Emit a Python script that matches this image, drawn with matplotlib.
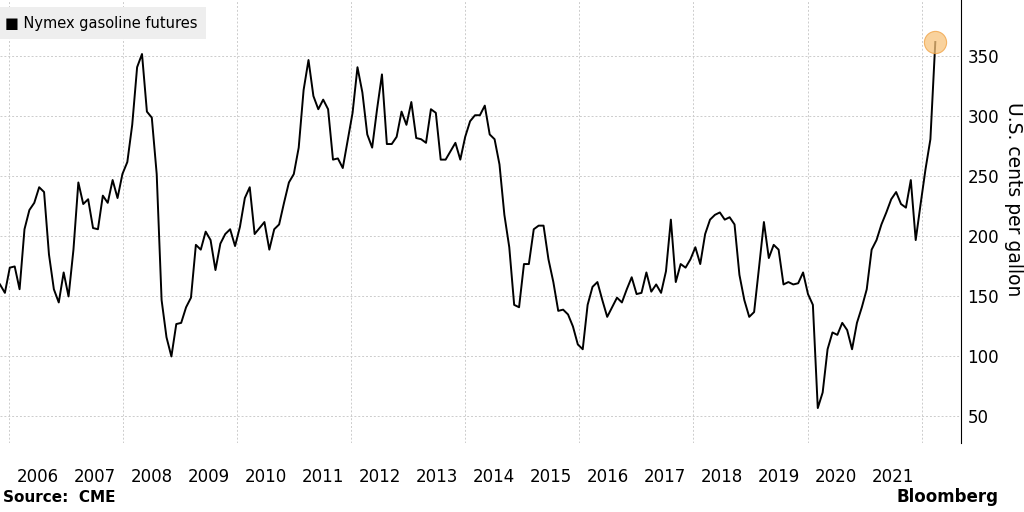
import numpy as np
import matplotlib.pyplot as plt

# monthly Nymex gasoline futures, U.S. cents per gallon
values = [160, 153, 174, 175, 156, 206, 222, 228, 241, 237, 185, 156, 145, 170, 150, 189, 245, 227,
          231, 207, 206, 234, 228, 247, 232, 252, 262, 293, 341, 352, 304, 299, 252, 147, 116, 100,
          127, 128, 141, 149, 193, 189, 204, 197, 172, 194, 202, 206, 192, 208, 232, 241, 202, 207,
          212, 189, 206, 210, 228, 245, 252, 274, 322, 347, 317, 306, 314, 306, 264, 265, 257, 280,
          303, 341, 320, 285, 274, 306, 335, 277, 277, 283, 304, 293, 312, 282, 281, 278, 306, 303,
          264, 264, 271, 278, 264, 283, 296, 301, 301, 309, 285, 281, 260, 218, 191, 143, 141, 177,
          177, 206, 209, 209, 181, 162, 138, 139, 135, 125, 110, 106, 143, 158, 162, 147, 133, 141,
          149, 145, 156, 166, 152, 153, 170, 154, 160, 153, 171, 214, 162, 177, 174, 181, 191, 177,
          202, 214, 218, 220, 214, 216, 210, 168, 147, 133, 137, 174, 212, 182, 193, 189, 160, 162,
          160, 161, 170, 152, 143, 57, 70, 106, 120, 118, 128, 122, 106, 128, 141, 156, 189, 197,
          210, 220, 231, 237, 227, 224, 247, 197, 227, 256, 281, 362]
start_year = 2005.84
end_year = 2022.24
years = np.linspace(start_year, end_year, len(values))

year_labels = list(range(2006, 2022))
y_ticks = [50, 100, 150, 200, 250, 300, 350]

fig = plt.figure(figsize=(10.24, 5.12), dpi=100)
ax = fig.add_axes([0, 0.135, 0.938, 0.865])

ax.plot(years, values, color='black', lw=1.4)
ax.plot(years[-1], values[-1], 'o', ms=16, color='#f8c47c', alpha=0.75,
        markeredgecolor='#f0a040', markeredgewidth=0.8, zorder=3)

ax.set_xlim(start_year, start_year + 960 / 57)
ax.set_ylim(28, 397)

ax.yaxis.tick_right()
ax.set_yticks(y_ticks)
ax.tick_params(axis='y', labelsize=12, length=0, pad=5)
ax.yaxis.set_label_position('right')
ax.set_ylabel('U.S. cents per gallon', fontsize=13.5, rotation=270, va='center')
ax.yaxis.set_label_coords(1.055, 0.55)

ax.set_xticks([y + 0.5 for y in year_labels])
ax.set_xticklabels([str(y) for y in year_labels])
ax.tick_params(axis='x', labelsize=12, length=0, pad=18)

for s in ['top', 'left', 'bottom']:
    ax.spines[s].set_visible(False)
ax.spines['right'].set_color('black')
ax.spines['right'].set_linewidth(0.8)

for v in y_ticks:
    ax.axhline(v, color='#cccccc', ls=(0, (2, 2)), lw=0.7, zorder=0)
for y in range(2006, 2023, 2):
    ax.axvline(y, color='#cccccc', ls=(0, (2, 2)), lw=0.7, zorder=0)

fig.text(0.005, 0.955, '■ Nymex gasoline futures', fontsize=10.5, va='center',
         bbox=dict(facecolor='#eeeeee', edgecolor='none', pad=6))
fig.text(0.003, 0.02, 'Source:  CME', fontsize=11, fontweight='bold')
fig.text(0.975, 0.02, 'Bloomberg', fontsize=12, fontweight='bold', ha='right')

fig.savefig('out.png', dpi=100)
